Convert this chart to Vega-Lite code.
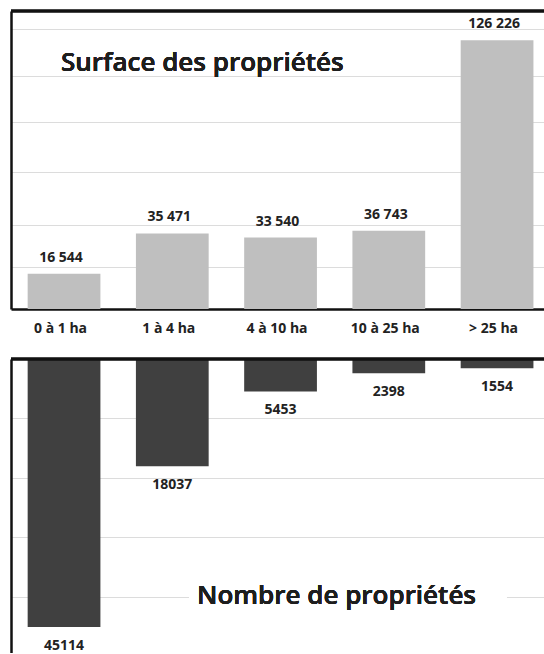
{
  "$schema": "https://vega.github.io/schema/vega-lite/v6.json",
  "background": "white",
  "padding": {"left": 9, "top": 9, "right": 0, "bottom": 0},
  "config": {
    "view": {"stroke": null},
    "font": "Open Sans",
    "axis": {"ticks": false, "title": null}
  },
  "datasets": {
    "props": [
      {"classe": "0 à 1 ha", "surface": 16544, "surface_label": "16 544", "nombre": 45114},
      {"classe": "1 à 4 ha", "surface": 35471, "surface_label": "35 471", "nombre": 18037},
      {"classe": "4 à 10 ha", "surface": 33540, "surface_label": "33 540", "nombre": 5453},
      {"classe": "10 à 25 ha", "surface": 36743, "surface_label": "36 743", "nombre": 2398},
      {"classe": "> 25 ha", "surface": 126226, "surface_label": "126 226", "nombre": 1554}
    ]
  },
  "spacing": 22,
  "vconcat": [
    {
      "width": 535,
      "height": 298,
      "data": {"name": "props"},
      "layer": [
        {
          "mark": {"type": "bar", "color": "#bfbfbf"},
          "encoding": {
            "x": {
              "field": "classe", "type": "nominal", "sort": null,
              "scale": {"paddingInner": 0.328, "paddingOuter": 0.135, "align": 0.57},
              "axis": {
                "orient": "bottom", "domain": true, "domainColor": "#111", "domainWidth": 2.5,
                "labelAngle": 0, "labelFont": "Open Sans", "labelFontWeight": "bold", "labelFontSize": 14,
                "labelColor": "#222", "labelPadding": 12, "labelOffset": -3.5, "grid": false
              }
            },
            "y": {
              "field": "surface", "type": "quantitative",
              "scale": {"domain": [0, 140000], "nice": false, "zero": true},
              "axis": {
                "domain": true, "domainColor": "#111", "domainWidth": 2.5,
                "labels": false, "grid": true, "gridColor": "#dcdcdc", "gridWidth": 1.2,
                "values": [19600, 39300, 64200, 87700, 109300, 131400]
              }
            }
          }
        },
        {
          "mark": {"type": "text", "font": "Open Sans", "fontWeight": "bold", "fontSize": 14, "color": "#222", "baseline": "middle", "dy": -16, "dx": -3},
          "encoding": {
            "x": {"field": "classe", "type": "nominal", "sort": null},
            "y": {"field": "surface", "type": "quantitative"},
            "text": {"field": "surface_label", "type": "nominal"}
          }
        },
        {
          "mark": {"type": "rule", "color": "#111", "strokeWidth": 2.5},
          "encoding": {"y": {"datum": 140000}}
        },
        {
          "mark": {"type": "text", "font": "Open Sans", "fontWeight": 600, "fontSize": 26, "color": "#1e1e1e", "baseline": "alphabetic", "align": "center", "dx": 30},
          "encoding": {
            "x": {"datum": "1 à 4 ha"},
            "y": {"datum": 111900},
            "text": {"value": "Surface des propriétés"}
          }
        }
      ]
    },
    {
      "width": 535,
      "height": 294,
      "data": {"name": "props"},
      "layer": [
        {
          "mark": {"type": "bar", "color": "#404040"},
          "encoding": {
            "x": {
              "field": "classe", "type": "nominal", "sort": null,
              "scale": {"paddingInner": 0.328, "paddingOuter": 0.135, "align": 0.57},
              "axis": null
            },
            "y": {
              "field": "nombre", "type": "quantitative",
              "scale": {"domain": [0, 49500], "nice": false, "reverse": true},
              "axis": {
                "domain": true, "domainColor": "#111", "domainWidth": 2.5,
                "labels": false, "grid": true, "gridColor": "#dcdcdc", "gridWidth": 1.2,
                "values": [10000, 20000, 30000, 40000]
              }
            }
          }
        },
        {
          "mark": {"type": "text", "font": "Open Sans", "fontWeight": "bold", "fontSize": 14, "color": "#222", "baseline": "middle", "dy": 19},
          "encoding": {
            "x": {"field": "classe", "type": "nominal", "sort": null},
            "y": {"field": "nombre", "type": "quantitative"},
            "text": {"field": "nombre", "type": "quantitative", "format": "d"}
          }
        },
        {
          "mark": {"type": "rule", "color": "#111", "strokeWidth": 2.5},
          "encoding": {"y": {"datum": 0}}
        },
        {
          "mark": {"type": "rule", "color": "white", "strokeWidth": 5},
          "encoding": {
            "x": {"datum": "1 à 4 ha", "bandPosition": 0.73},
            "x2": {"datum": "> 25 ha", "bandPosition": 0.63},
            "y": {"datum": 40000}
          }
        },
        {
          "mark": {"type": "text", "font": "Open Sans", "fontWeight": 600, "fontSize": 26, "color": "#1e1e1e", "baseline": "alphabetic", "align": "center", "dx": 56},
          "encoding": {
            "x": {"datum": "4 à 10 ha"},
            "y": {"datum": 41300},
            "text": {"value": "Nombre de propriétés"}
          }
        }
      ]
    }
  ]
}
